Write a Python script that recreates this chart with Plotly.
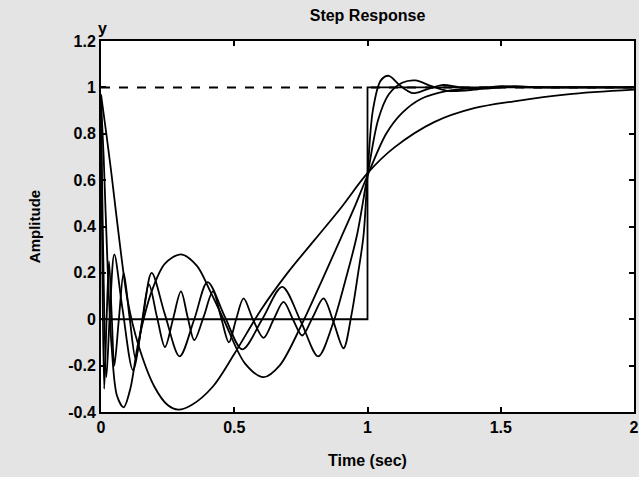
import plotly.graph_objects as go

# ---- data ----
x_ticks = [0, 0.5, 1, 1.5, 2]
x_tick_labels = ["0", "0.5", "1", "1.5", "2"]
y_ticks = [-0.4, -0.2, 0, 0.2, 0.4, 0.6, 0.8, 1, 1.2]
y_tick_labels = ["-0.4", "-0.2", "0", "0.2", "0.4", "0.6", "0.8", "1", "1.2"]

# ideal delayed step
t_ideal = [0, 1, 1, 2]
y_ideal = [0, 0, 1, 1]

# steady-state (dashed) level
t_final = [0, 2]
y_final = [1, 1]

# lowest-order approximation (smoothest)
t_a = [0, 0.02, 0.04, 0.07, 0.10, 0.14, 0.20, 0.25, 0.29, 0.34, 0.42, 0.50, 0.60,
       0.70, 0.80, 0.90, 1.00, 1.10, 1.25, 1.40, 1.55, 1.75, 2.00]
y_a = [0.97, 0.80, 0.62, 0.33, 0.08, -0.11, -0.29, -0.37, -0.39, -0.37, -0.29, -0.15, 0.04,
       0.20, 0.34, 0.48, 0.63, 0.74, 0.85, 0.91, 0.94, 0.97, 0.99]

# second approximation
t_b = [0, 0.01, 0.025, 0.04, 0.06, 0.085, 0.11, 0.14, 0.19, 0.24, 0.30, 0.36, 0.41,
       0.46, 0.54, 0.61, 0.67, 0.75, 0.83, 0.90, 0.95, 1.00, 1.07, 1.13, 1.20, 1.30,
       1.45, 1.70, 2.00]
y_b = [0.95, 0.70, 0.22, -0.12, -0.33, -0.38, -0.30, -0.10, 0.12, 0.24, 0.28, 0.23, 0.12,
       0.00, -0.19, -0.25, -0.20, -0.03, 0.17, 0.35, 0.48, 0.62, 0.80, 0.89, 0.95, 0.985,
       1.0, 1.0, 1.0]

# third approximation
t_c = [0, 0.008, 0.02, 0.033, 0.05, 0.08, 0.12, 0.155, 0.19, 0.24, 0.295, 0.35, 0.40,
       0.465, 0.53, 0.605, 0.68, 0.75, 0.815, 0.87, 0.92, 0.96, 1.00, 1.04, 1.08, 1.13,
       1.18, 1.24, 1.30, 1.40, 1.50, 1.60, 1.75, 2.00]
y_c = [0.90, 0.30, -0.25, 0.02, 0.28, 0.05, -0.22, -0.01, 0.20, 0.02, -0.16, 0.0, 0.16,
       0.01, -0.13, 0.0, 0.14, -0.01, -0.16, -0.02, 0.18, 0.36, 0.62, 0.86, 0.97, 1.02,
       1.03, 1.005, 0.985, 0.99, 1.005, 1.0, 1.0, 1.0]

# highest-order approximation
t_d = [0, 0.004, 0.012, 0.021, 0.03, 0.04, 0.05, 0.067, 0.085, 0.107, 0.13, 0.155, 0.18,
       0.21, 0.24, 0.27, 0.30, 0.325, 0.35, 0.385, 0.42, 0.45, 0.48, 0.507, 0.535, 0.57,
       0.61, 0.648, 0.685, 0.72, 0.755, 0.795, 0.835, 0.872, 0.91, 0.94, 0.965, 0.985,
       1.00, 1.02, 1.05, 1.08, 1.12, 1.17, 1.22, 1.28, 1.35, 1.45, 1.55, 1.65, 1.80, 2.00]
y_d = [0.92, 0.35, -0.30, 0.0, 0.25, 0.02, -0.20, 0.0, 0.20, 0.01, -0.17, 0.0, 0.15,
       0.01, -0.12, 0.0, 0.12, 0.01, -0.09, 0.01, 0.12, 0.01, -0.10, 0.0, 0.09, 0.0,
       -0.08, 0.0, 0.075, 0.0, -0.07, 0.01, 0.09, -0.01, -0.125, 0.02, 0.20, 0.36,
       0.62, 0.90, 1.03, 1.05, 1.01, 0.975, 0.99, 1.01, 1.0, 0.995, 1.005, 1.0, 1.0, 1.0]

FONT = "Liberation Sans, Arial, sans-serif"
LINE_W = 1.8

fig = go.Figure()
fig.add_trace(go.Scatter(x=t_final, y=y_final, mode="lines",
                         line=dict(color="black", width=2, dash="dash")))
fig.add_trace(go.Scatter(x=t_ideal, y=y_ideal, mode="lines",
                         line=dict(color="black", width=LINE_W)))
for tt, yy in [(t_a, y_a), (t_b, y_b), (t_c, y_c), (t_d, y_d)]:
    fig.add_trace(go.Scatter(x=tt, y=yy, mode="lines",
                             line=dict(color="black", width=LINE_W,
                                       shape="spline", smoothing=0.9)))

axis_common = dict(showline=True, linecolor="black", linewidth=2, mirror="ticks",
                   ticks="inside", ticklen=5, tickwidth=1.5, tickcolor="black",
                   showgrid=False, zeroline=False, automargin=False,
                   tickfont=dict(family=FONT, size=16, color="black", weight="bold"))

fig.update_layout(
    width=639, height=477,
    margin=dict(l=101, r=5, t=41, b=65),
    paper_bgcolor="#e4e4e4",
    plot_bgcolor="white",
    showlegend=False,
    title=dict(text="Step Response", x=0.5, xref="paper", y=1 - 15.5 / 477,
               yanchor="middle", xanchor="center",
               font=dict(family=FONT, size=16, color="black", weight="bold")),
    xaxis=dict(range=[0, 2], tickvals=x_ticks, ticktext=x_tick_labels,
               title=dict(text="Time (sec)", standoff=20,
                          font=dict(family=FONT, size=16, color="black", weight="bold")),
               **axis_common),
    yaxis=dict(range=[-0.4, 1.2], tickvals=y_ticks, ticktext=y_tick_labels,
               title=dict(text="Amplitude", standoff=24,
                          font=dict(family=FONT, size=15, color="black", weight="bold")),
               **axis_common),
    annotations=[dict(text="y", xref="paper", yref="paper", x=0, y=1,
                      xanchor="center", yanchor="middle", showarrow=False, yshift=13,
                      xshift=1,
                      font=dict(family=FONT, size=16, color="black", weight="bold"))],
)

fig.write_html("out.html", config={"displayModeBar": False},
               post_script="document.body.style.margin='0';document.body.style.padding='0';")
